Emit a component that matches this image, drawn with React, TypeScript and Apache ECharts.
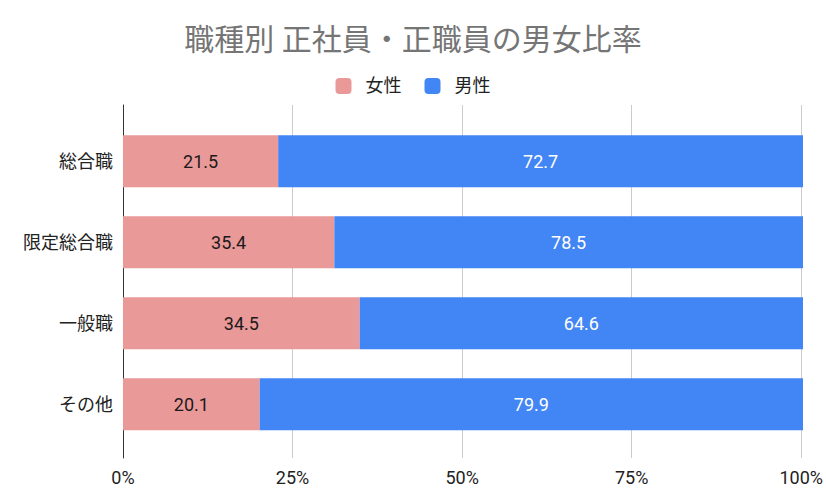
import React, { useEffect, useRef } from "react";
import * as echarts from "echarts";

const categories = ["総合職", "限定総合職", "一般職", "その他"];
const femaleValues = [21.5, 35.4, 34.5, 20.1];
const maleValues = [72.7, 78.5, 64.6, 79.9];
const seriesNames = ["女性", "男性"];
const xTicks = [0, 25, 50, 75, 100];

const FONT = "Roboto, 'Noto Sans CJK JP', sans-serif";

export default function App() {
  const ref = useRef<HTMLDivElement>(null);
  useEffect(() => {
    if (!ref.current) return;
    const chart = echarts.init(ref.current, undefined, { renderer: "svg" });
    const totals = femaleValues.map((f, i) => f + maleValues[i]);
    const femaleShare = femaleValues.map((f, i) => (f / totals[i]) * 100);
    const maleShare = maleValues.map((m, i) => (m / totals[i]) * 100);
    const interval = xTicks[1] - xTicks[0];
    chart.setOption({
      animation: false,
      backgroundColor: "#ffffff",
      textStyle: { fontFamily: FONT },
      title: {
        text: "職種別 正社員・正職員の男女比率",
        left: "center",
        top: 19,
        textStyle: { fontFamily: FONT, fontSize: 30, fontWeight: "normal", color: "#757575" },
      },
      legend: {
        data: seriesNames,
        top: 72,
        left: "center",
        itemWidth: 16,
        itemHeight: 16,
        itemGap: 23,
        icon: "roundRect",
        textStyle: { fontFamily: FONT, fontSize: 18, color: "#222222", padding: [0, 0, 0, 9] },
      },
      grid: [
        { left: 123, right: 23, top: 105, bottom: 46 },
        { left: 123, right: 23, top: 120.8, bottom: 59.2 },
      ],
      xAxis: [
        {
          gridIndex: 0,
          type: "value",
          min: 0,
          max: 100,
          interval,
          axisLine: { show: false },
          axisTick: { show: false },
          splitLine: { show: true, lineStyle: { color: "#cccccc", width: 1 } },
          axisLabel: {
            formatter: "{value}%",
            fontFamily: FONT,
            fontSize: 18,
            color: "#222222",
            margin: 10,
          },
        },
        {
          gridIndex: 1,
          type: "value",
          min: 0,
          max: 100,
          show: false,
        },
      ],
      yAxis: [
        {
          gridIndex: 0,
          type: "value",
          min: 0,
          max: 1,
          axisLine: { show: true, lineStyle: { color: "#333333", width: 1 } },
          axisTick: { show: false },
          axisLabel: { show: false },
          splitLine: { show: false },
        },
        {
          gridIndex: 1,
          type: "category",
          data: categories,
          inverse: true,
          axisLine: { show: false },
          axisTick: { show: false },
          splitLine: { show: false },
          axisLabel: {
            fontFamily: FONT,
            fontSize: 18,
            color: "#222222",
            margin: 10,
          },
        },
      ],
      series: [
        {
          name: seriesNames[0],
          type: "bar",
          stack: "total",
          xAxisIndex: 1,
          yAxisIndex: 1,
          barWidth: 52,
          data: femaleShare,
          itemStyle: { color: "#ea9999" },
          label: {
            show: true,
            position: "inside",
            fontFamily: FONT,
            fontSize: 18,
            color: "#1a1a1a",
            formatter: (p: any) => String(femaleValues[p.dataIndex]),
          },
        },
        {
          name: seriesNames[1],
          type: "bar",
          stack: "total",
          xAxisIndex: 1,
          yAxisIndex: 1,
          barWidth: 52,
          data: maleShare,
          itemStyle: { color: "#4285f4" },
          label: {
            show: true,
            position: "inside",
            fontFamily: FONT,
            fontSize: 18,
            color: "#ffffff",
            formatter: (p: any) => String(maleValues[p.dataIndex]),
          },
        },
      ],
    });
    return () => chart.dispose();
  }, []);
  return (
    <div
      ref={ref}
      style={{ position: "absolute", left: 0, top: 0, width: 826, height: 504 }}
    />
  );
}
